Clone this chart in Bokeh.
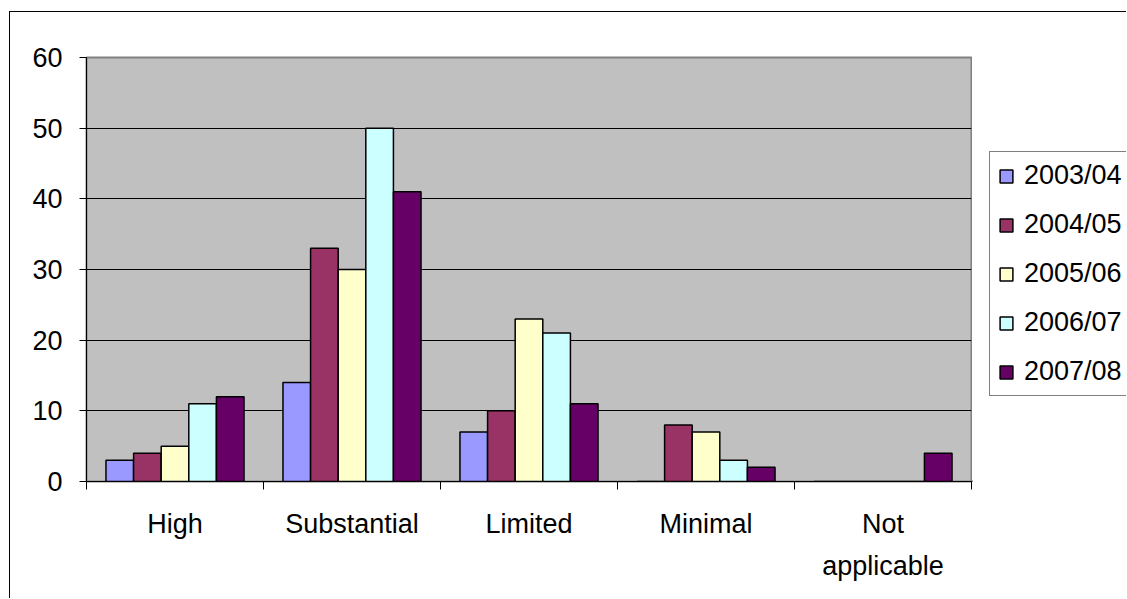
from bokeh.plotting import figure
from bokeh.models import FixedTicker, Legend, LegendItem, Range1d, ColumnDataSource
from bokeh.layouts import row
from bokeh.embed import file_html
from bokeh.resources import INLINE

categories = ["High", "Substantial", "Limited", "Minimal", "Not\napplicable"]
years = ["2003/04", "2004/05", "2005/06", "2006/07", "2007/08"]
v2003_04 = [3, 14, 7, 0, 0]
v2004_05 = [4, 33, 10, 8, 0]
v2005_06 = [5, 30, 23, 7, 0]
v2006_07 = [11, 50, 21, 3, 0]
v2007_08 = [12, 41, 11, 2, 4]
series = [v2003_04, v2004_05, v2005_06, v2006_07, v2007_08]
colors = ["#9999FF", "#993366", "#FFFFCC", "#CCFFFF", "#660066"]
y_ticks = [0, 10, 20, 30, 40, 50, 60]

FONT = "Liberation Sans"
bw = 0.156

# main chart
p = figure(width=963, height=587, output_backend="svg", toolbar_location=None,
           x_range=Range1d(0, len(categories)), y_range=Range1d(0, 60),
           min_border_left=76, min_border_right=2, min_border_top=45, min_border_bottom=118)
p.styles = {"margin-left": "9px", "margin-top": "11px",
            "border-left": "1px solid black", "border-top": "1px solid black"}
p.background_fill_color = "#C0C0C0"
p.border_fill_color = "white"
p.outline_line_color = "#808080"
p.outline_line_width = 2

for j, (vals, col) in enumerate(zip(series, colors)):
    xs = [i + 0.5 + (j - 2) * bw for i in range(len(categories))]
    src = ColumnDataSource(dict(x=xs, top=vals))
    p.vbar(x="x", top="top", width=bw, source=src, fill_color=col,
           line_color="black", line_width=1.5)

# x axis
p.xaxis.ticker = FixedTicker(ticks=[i + 0.5 for i in range(len(categories))],
                             minor_ticks=list(range(len(categories) + 1)))
p.xaxis.major_label_overrides = {i + 0.5: c for i, c in enumerate(categories)}
p.xaxis.major_tick_line_color = None
p.xaxis.major_tick_out = 0
p.xaxis.major_tick_in = 0
p.xaxis.minor_tick_out = 8
p.xaxis.minor_tick_in = 0
p.xaxis.minor_tick_line_color = "black"
p.xaxis.major_label_standoff = 19
p.xaxis.major_label_text_line_height = 1.4
p.xgrid.visible = False

# y axis
p.yaxis.ticker = FixedTicker(ticks=y_ticks, minor_ticks=[])
p.yaxis.major_tick_out = 7
p.yaxis.major_tick_in = 0
p.yaxis.major_label_standoff = 17
p.ygrid.grid_line_color = "black"
p.ygrid.grid_line_width = 1

for ax in [p.xaxis[0], p.yaxis[0]]:
    ax.axis_line_color = "black"
    ax.axis_line_width = 1
    ax.major_label_text_font = FONT
    ax.major_label_text_font_size = "27px"
    ax.major_label_text_color = "black"

# legend panel (to the right of the chart)
q = figure(width=154, height=587, output_backend="svg", toolbar_location=None,
           x_range=Range1d(0, 1), y_range=Range1d(0, 1),
           min_border=0, x_axis_type=None, y_axis_type=None)
q.styles = {"margin-top": "11px", "border-top": "1px solid black"}
q.outline_line_color = None
q.background_fill_color = "white"
q.border_fill_color = "white"
q.xgrid.visible = False
q.ygrid.visible = False

items = []
for col, yr in zip(colors, years):
    # legend-only swatch renderer, kept outside the visible range
    r = q.vbar(x=[-5], top=[0], width=0.1, fill_color=col, line_color="black", line_width=1.5)
    items.append(LegendItem(label=yr, renderers=[r]))

legend = Legend(items=items, location=(17, 85))
legend.label_text_font = FONT
legend.label_text_font_size = "27px"
legend.label_text_color = "black"
legend.glyph_width = 16
legend.glyph_height = 16
legend.label_height = 30
legend.spacing = 18
legend.padding = 8
legend.margin = 0
legend.label_standoff = 10
legend.border_line_color = "black"
legend.border_line_width = 1
legend.background_fill_color = "white"
legend.background_fill_alpha = 1
q.add_layout(legend)

layout = row(p, q)
open("out.html", "w").write(file_html(layout, INLINE))
